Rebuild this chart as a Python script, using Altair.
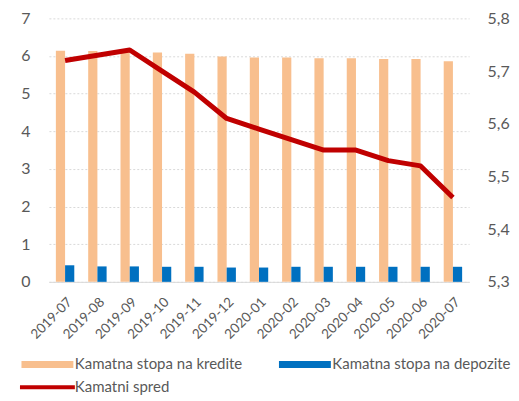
import altair as alt
import pandas as pd

months = ["2019-07", "2019-08", "2019-09", "2019-10", "2019-11", "2019-12", "2020-01",
          "2020-02", "2020-03", "2020-04", "2020-05", "2020-06", "2020-07"]
kredit = [6.14, 6.13, 6.12, 6.09, 6.06, 5.99, 5.96, 5.96, 5.94, 5.94, 5.92, 5.92, 5.86]
depozit = [0.44, 0.41, 0.41, 0.40, 0.40, 0.38, 0.38, 0.40, 0.40, 0.40, 0.40, 0.40, 0.40]
spred = [5.72, 5.73, 5.74, 5.70, 5.66, 5.61, 5.59, 5.57, 5.55, 5.55, 5.53, 5.52, 5.46]
series_names = ["Kamatna stopa na kredite", "Kamatna stopa na depozite", "Kamatni spred"]
colors = ["#F8BF8E", "#0070C0", "#C00000"]
left_ticks = [0, 1, 2, 3, 4, 5, 6, 7]
right_ticks = [5.3, 5.4, 5.5, 5.6, 5.7, 5.8]

bars_df = pd.DataFrame({
    "month": months * 2,
    "series": [series_names[0]] * len(months) + [series_names[1]] * len(months),
    "value": kredit + depozit,
})
line_df = pd.DataFrame({"month": months, "spred": spred})

FONT = "Lato"
TXT = "#595959"

x_enc = alt.X("month:N", sort=months, title=None,
              scale=alt.Scale(paddingInner=0.43, paddingOuter=0.215),
              axis=alt.Axis(labelAngle=-45, labelFontSize=13.5, labelColor=TXT, labelFont=FONT,
                            ticks=False, domainColor="#D9D9D9", domainWidth=1,
                            labelPadding=13, grid=False))

rect_path = "M-5.2,-0.7H5.2V0.7H-5.2Z"
line_path = "M-5.5,-0.4H5.5V0.4H-5.5Z"
shape_expr = f"datum.value === 'Kamatni spred' ? '{line_path}' : '{rect_path}'"

bars = alt.Chart(bars_df).mark_bar().encode(
    x=x_enc,
    xOffset=alt.XOffset("series:N", sort=series_names[:2],
                        scale=alt.Scale(domain=series_names[:2], paddingInner=0, paddingOuter=0)),
    y=alt.Y("value:Q", title=None,
            scale=alt.Scale(domain=[0, 7], nice=False),
            axis=alt.Axis(values=left_ticks, grid=True, gridColor="#D9D9D9", gridDash=[2, 2],
                          gridWidth=1, domain=False, ticks=False, labelFontSize=16,
                          labelColor=TXT, labelFont=FONT, labelPadding=19)),
    color=alt.Color("series:N", scale=alt.Scale(domain=series_names, range=colors),
                    legend=alt.Legend(
                        title=None, orient="none", legendX=-30, legendY=339,
                        direction="horizontal", columns=2,
                        symbolType=alt.ExprRef(expr=shape_expr), symbolSize=100,
                        symbolOffset=21, labelOffset=20, symbolStrokeWidth=0,
                        labelFontSize=15, labelColor=TXT, labelFont=FONT, labelLimit=400,
                        columnPadding=34, rowPadding=7)),
)

line = alt.Chart(line_df).mark_line(color="#C00000", strokeWidth=5, strokeJoin="round",
                                     strokeCap="butt").encode(
    x=alt.X("month:N", sort=months),
    y=alt.Y("spred:Q", title=None,
            scale=alt.Scale(domain=[5.3, 5.8], nice=False, zero=False),
            axis=alt.Axis(orient="right", values=right_ticks, grid=False, domain=False,
                          ticks=False, labelFontSize=16, labelColor=TXT, labelFont=FONT,
                          labelPadding=18,
                          labelExpr="replace(format(datum.value, '.1f'), '.', ',')")),
)

chart = alt.layer(bars, line).resolve_scale(y="independent").properties(
    width=421, height=264,
    padding={"left": 11, "top": 2, "right": 0, "bottom": 0},
).configure_view(stroke=None)

chart.save("out.html", embed_options={"renderer": "svg", "actions": False})
